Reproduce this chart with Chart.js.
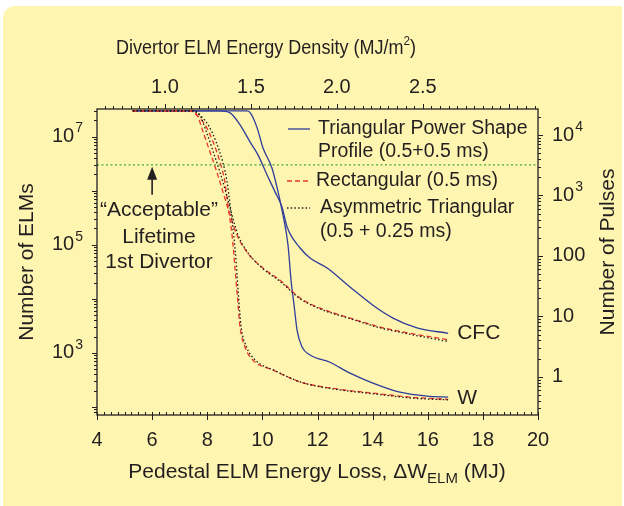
<!DOCTYPE html>
<html lang="en">
<head>
<meta charset="UTF-8">
<title>ELM lifetime</title>
<script src="https://cdn.jsdelivr.net/npm/chart.js"></script>
<style>
  html, body { margin: 0; padding: 0; background: #fff; }
  canvas { display: block; }
</style>
</head>
<body>
<canvas id="elmChart" width="624" height="506"></canvas>
<script>
// Pedestal ELM energy loss (MJ) vs number of ELMs, one pair of arrays per curve

// Triangular power shape profile (0.5+0.5 ms)
var triCfcE = [5.3, 8.46, 8.83, 9.19, 9.55, 9.84, 10.17, 10.46, 10.71, 10.9, 11.37, 11.73, 12.35, 13.18, 14.01, 14.74, 15.61, 16.74];
var triCfcN = [3.0e7, 3.0e7, 2.75e7, 1.65e7, 8.0e6, 4.6e6, 1.95e6, 9.5e5, 5.0e5, 2.1e5, 8.7e4, 5.7e4, 3.7e4, 1.65e4, 7.6e3, 4.4e3, 2.9e3, 2.3e3];
var triWE = [5.3, 9.44, 9.55, 9.81, 10.02, 10.35, 10.57, 10.75, 10.93, 11.04, 11.15, 11.26, 11.44, 11.73, 12.45, 13.18, 14.01, 14.99, 15.97, 16.74];
var triWN = [3.0e7, 3.0e7, 2.8e7, 1.45e7, 6.2e6, 2.6e6, 9.5e5, 3.5e5, 9.9e4, 2.2e4, 7.6e3, 2.6e3, 1.28e3, 910, 670, 420, 275, 187, 158, 152];

// Rectangular (0.5 ms)
var rectCfcE = [5.27, 7.37, 7.63, 7.85, 8.10, 8.35, 8.57, 8.83, 9.08, 9.44, 10.02, 10.64, 11.37, 12.09, 13.18, 14.27, 15.36, 16.74];
var rectCfcN = [3.0e7, 3.0e7, 2.5e7, 1.22e7, 5.2e6, 2.2e6, 9.5e5, 3.5e5, 1.5e5, 7.3e4, 3.7e4, 2.2e4, 1.03e4, 6.7e3, 4.4e3, 3.0e3, 2.3e3, 1.75e3];
var rectWE = [5.27, 7.37, 7.48, 7.92, 8.21, 8.46, 8.64, 8.75, 8.90, 9.0, 9.1, 9.19, 9.37, 9.66, 10.39, 11.37, 12.56, 14.01, 15.47, 16.74];
var rectWN = [3.0e7, 3.0e7, 2.85e7, 1.65e7, 8.0e6, 3.4e6, 1.45e6, 5.4e5, 1.5e5, 4.0e4, 1.0e4, 3.0e3, 1.28e3, 730, 480, 290, 220, 180, 150, 138];

// Asymmetric triangular (0.5 + 0.25 ms)
var asymCfcE = [5.3, 7.45, 7.73, 7.97, 8.22, 8.46, 8.67, 8.90, 9.12, 9.46, 10.02, 10.64, 11.37, 12.09, 13.18, 14.27, 15.36, 16.74];
var asymCfcN = [3.0e7, 3.0e7, 2.5e7, 1.22e7, 5.2e6, 2.2e6, 9.5e5, 3.5e5, 1.5e5, 7.3e4, 3.6e4, 2.1e4, 1.0e4, 6.5e3, 4.3e3, 2.9e3, 2.2e3, 1.62e3];
var asymWE = [5.3, 7.45, 7.58, 8.03, 8.32, 8.56, 8.72, 8.83, 8.96, 9.06, 9.14, 9.23, 9.42, 9.75, 10.45, 11.37, 12.56, 14.01, 15.47, 16.74];
var asymWN = [3.0e7, 3.0e7, 2.85e7, 1.65e7, 8.0e6, 3.4e6, 1.45e6, 5.4e5, 1.5e5, 4.0e4, 1.0e4, 3.0e3, 1.3e3, 730, 470, 290, 215, 175, 145, 135];

// "acceptable" lifetime of the first divertor
var acceptN = 3.0e6;
var acceptE = 6;

// axis ticks
var lossTicks = [4, 6, 8, 10, 12, 14, 16, 18, 20];
var densityTicks = [1.0, 1.5, 2.0, 2.5];
var elmTicks = [3, 5, 7];          // powers of ten
var pulseTicks = [1, 10, 100, 1000, 10000];

var INK = '#231f20';
var BLUE = '#2e3d9b';
var RED = '#e8362d';
var FONT = '"Liberation Sans", Arial, sans-serif';

function pts(xs, ys) {
  return xs.map(function (x, i) { return { x: x, y: ys[i] }; });
}

function curve(xs, ys, color, dash) {
  return {
    data: pts(xs, ys),
    showLine: true,
    borderColor: color,
    borderWidth: 1.3,
    borderDash: dash,
    pointRadius: 0,
    cubicInterpolationMode: 'monotone',
    xAxisID: 'x',
    yAxisID: 'y'
  };
}

function font(px) { return px + 'px ' + FONT; }

// "10" with a raised exponent
function powerLabel(ctx, exp, x, y, align) {
  ctx.font = font(20);
  var wb = ctx.measureText('10').width;
  ctx.font = font(14);
  var ws = ctx.measureText(exp).width;
  var x0 = align === 'right' ? x - wb - ws - 1 : x;
  ctx.textAlign = 'left';
  ctx.font = font(20);
  ctx.fillText('10', x0, y);
  ctx.font = font(14);
  ctx.fillText(exp, x0 + wb + 1, y - 8);
}

var decorations = {
  id: 'decorations',
  beforeDraw: function (chart) {
    var ctx = chart.ctx;
    ctx.save();
    ctx.fillStyle = '#ffffff';
    ctx.fillRect(0, 0, chart.width, chart.height);
    // rounded yellow panel
    ctx.fillStyle = '#fef5b0';
    ctx.beginPath();
    ctx.moveTo(3, chart.height);
    ctx.lineTo(3, 18);
    ctx.arcTo(3, 6, 15, 6, 12);
    ctx.lineTo(622, 6);
    ctx.lineTo(622, chart.height);
    ctx.closePath();
    ctx.fill();
    ctx.restore();
  },
  afterDraw: function (chart) {
    var ctx = chart.ctx;
    var a = chart.chartArea;
    var sx = chart.scales.x, sy = chart.scales.y, sx2 = chart.scales.x2, sy2 = chart.scales.y2;
    var i, d, m, v, p;
    ctx.save();

    // frame
    ctx.strokeStyle = INK;
    ctx.lineWidth = 1.3;
    ctx.strokeRect(a.left, a.top, a.right - a.left, a.bottom - a.top);

    // tick marks
    ctx.lineWidth = 1;
    ctx.beginPath();
    for (v = 4; v <= 20.001; v += 0.25) {
      p = Math.round(sx.getPixelForValue(v)) + 0.5;
      var major = Math.abs(v / 2 - Math.round(v / 2)) < 1e-6;
      ctx.moveTo(p, a.bottom - 3);
      ctx.lineTo(p, a.bottom + (major ? 5 : 0));
    }
    for (i = 13; i <= 63; i++) {
      v = i * 0.05;
      p = Math.round(sx2.getPixelForValue(v)) + 0.5;
      if (p < a.left || p > a.right) continue;
      ctx.moveTo(p, a.top);
      ctx.lineTo(p, a.top - (i % 10 === 0 ? 5 : 3));
    }
    for (d = 1; d <= 7; d++) {
      for (m = 1; m <= 9; m++) {
        v = m * Math.pow(10, d);
        if (v < sy.min || v > sy.max) continue;
        p = Math.round(sy.getPixelForValue(v)) + 0.5;
        ctx.moveTo(a.left, p);
        ctx.lineTo(a.left - (m === 1 ? 5 : 3), p);
      }
    }
    for (d = -1; d <= 4; d++) {
      for (m = 1; m <= 9; m++) {
        v = m * Math.pow(10, d);
        if (v < sy2.min || v > sy2.max) continue;
        p = Math.round(sy2.getPixelForValue(v)) + 0.5;
        ctx.moveTo(a.right, p);
        ctx.lineTo(a.right + (m === 1 ? 5 : 3), p);
      }
    }
    ctx.stroke();

    ctx.fillStyle = INK;
    ctx.textBaseline = 'middle';

    // tick labels
    ctx.font = font(20);
    ctx.textAlign = 'center';
    lossTicks.forEach(function (t) {
      ctx.fillText(String(t), sx.getPixelForValue(t), 440);
    });
    densityTicks.forEach(function (t) {
      ctx.fillText(t.toFixed(1), sx2.getPixelForValue(t), 87);
    });
    elmTicks.forEach(function (e) {
      powerLabel(ctx, String(e), a.left - 14, sy.getPixelForValue(Math.pow(10, e)), 'right');
    });
    pulseTicks.forEach(function (t) {
      var y = sy2.getPixelForValue(t);
      if (t >= 1000) {
        powerLabel(ctx, String(Math.round(Math.log10(t))), a.right + 14, y, 'left');
      } else {
        ctx.font = font(20);
        ctx.textAlign = 'left';
        ctx.fillText(String(t), a.right + 14, y);
      }
    });

    // top title with m², set a little condensed
    ctx.textAlign = 'left';
    ctx.font = font(20);
    var t1 = 'Divertor ELM Energy Density (MJ/m';
    var w1 = ctx.measureText(t1).width;
    var w3 = ctx.measureText(')').width;
    ctx.font = font(13);
    var w2 = ctx.measureText('2').width;
    var squeeze = 300 / (w1 + w2 + w3);
    ctx.save();
    ctx.translate(266, 48);
    ctx.scale(squeeze, 1);
    var x0 = -(w1 + w2 + w3) / 2;
    ctx.font = font(20);
    ctx.fillText(t1, x0, 0);
    ctx.fillText(')', x0 + w1 + w2, 0);
    ctx.font = font(13);
    ctx.fillText('2', x0 + w1, -7);
    ctx.restore();

    // bottom title with ΔW subscript
    ctx.font = font(21);
    var b1 = 'Pedestal ELM Energy Loss, \u0394W';
    var b3 = ' (MJ)';
    var wb1 = ctx.measureText(b1).width;
    var wb3 = ctx.measureText(b3).width;
    ctx.font = font(15);
    var wb2 = ctx.measureText('ELM').width;
    x0 = 317 - (wb1 + wb2 + wb3) / 2;
    ctx.font = font(21);
    ctx.fillText(b1, x0, 472);
    ctx.fillText(b3, x0 + wb1 + wb2, 472);
    ctx.font = font(15);
    ctx.fillText('ELM', x0 + wb1, 479);

    // side titles
    ctx.font = font(21);
    ctx.textAlign = 'center';
    ctx.save();
    ctx.translate(27, 262);
    ctx.rotate(-Math.PI / 2);
    ctx.fillText('Number of ELMs', 0, 0);
    ctx.restore();
    ctx.save();
    ctx.translate(608, 252);
    ctx.rotate(-Math.PI / 2);
    ctx.fillText('Number of Pulses', 0, 0);
    ctx.restore();

    // acceptable lifetime note and arrow
    var ax = sx.getPixelForValue(acceptE);
    var ay = sy.getPixelForValue(acceptN);
    ctx.beginPath();
    ctx.lineWidth = 1.6;
    ctx.moveTo(ax, ay + 30);
    ctx.lineTo(ax, ay + 10);
    ctx.stroke();
    ctx.beginPath();
    ctx.moveTo(ax, ay + 2);
    ctx.lineTo(ax - 5, ay + 15);
    ctx.lineTo(ax + 5, ay + 15);
    ctx.closePath();
    ctx.fill();
    ctx.font = font(21);
    ctx.fillText('\u201cAcceptable\u201d', 159, 210);
    ctx.fillText('Lifetime', 159, 237);
    ctx.fillText('1st Divertor', 159, 262);

    // end labels
    ctx.textAlign = 'left';
    var ex = sx.getPixelForValue(16.74) + 9;
    ctx.fillText('CFC', ex, 333);
    ctx.fillText('W', ex, 398);

    // legend
    ctx.lineWidth = 1.3;
    ctx.strokeStyle = BLUE;
    ctx.beginPath(); ctx.moveTo(288, 129); ctx.lineTo(310, 129); ctx.stroke();
    ctx.strokeStyle = RED;
    ctx.setLineDash([5, 3]);
    ctx.beginPath(); ctx.moveTo(287, 181); ctx.lineTo(310, 181); ctx.stroke();
    ctx.strokeStyle = INK;
    ctx.setLineDash([1.5, 2.2]);
    ctx.beginPath(); ctx.moveTo(287, 208); ctx.lineTo(310, 208); ctx.stroke();
    ctx.setLineDash([]);
    ctx.font = font(19.5);
    ctx.fillText('Triangular Power Shape', 318, 129);
    ctx.fillText('Profile (0.5+0.5 ms)', 318, 152);
    ctx.fillText('Rectangular (0.5 ms)', 316, 181);
    ctx.fillText('Asymmetric Triangular', 320, 208);
    ctx.fillText('(0.5 + 0.25 ms)', 320, 232);

    ctx.restore();
  }
};

var ctx = document.getElementById('elmChart').getContext('2d');

var config = {
  type: 'scatter',
  data: {
    datasets: [
      {
        data: pts([4, 20], [acceptN, acceptN]),
        showLine: true,
        borderColor: '#3daa35',
        borderWidth: 1.3,
        borderDash: [2, 2.5],
        pointRadius: 0
      },
      curve(asymCfcE, asymCfcN, '#1a1a1a', [1.5, 2.2]),
      curve(asymWE, asymWN, '#1a1a1a', [1.5, 2.2]),
      curve(rectCfcE, rectCfcN, RED, [5, 3]),
      curve(rectWE, rectWN, RED, [5, 3]),
      curve(triCfcE, triCfcN, BLUE, []),
      curve(triWE, triWN, BLUE, [])
    ]
  },
  options: {
    responsive: false,
    animation: false,
    layout: { padding: { left: 97, top: 109, right: 86, bottom: 91 } },
    plugins: { legend: { display: false }, tooltip: { enabled: false } },
    scales: {
      x: { type: 'linear', min: 4, max: 20, display: false },
      y: { type: 'logarithmic', min: 70.8, max: 3.24e7, display: false },
      x2: { type: 'linear', position: 'top', min: 0.605, max: 3.17, display: false },
      y2: { type: 'logarithmic', position: 'right', min: 0.234, max: 26900, display: false }
    }
  },
  plugins: [decorations]
};

var chart = new Chart(ctx, config);
</script>
</body>
</html>
